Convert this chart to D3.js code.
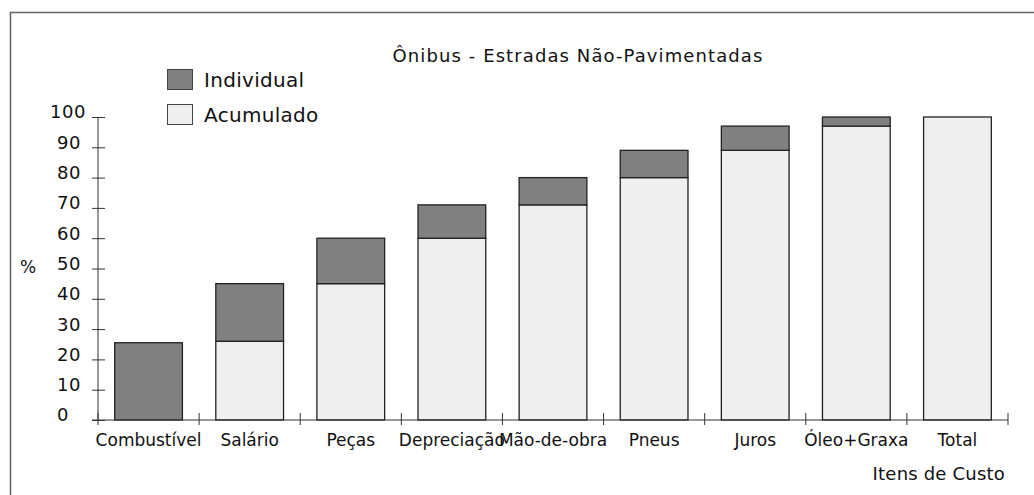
<!DOCTYPE html>
<html>
<head>
<meta charset="utf-8">
<script src="https://cdn.jsdelivr.net/npm/d3@7"></script>
<style>
  body { margin: 0; background: #fff; }
  svg text { font-family: "DejaVu Sans", Verdana, sans-serif; fill: #111; }
</style>
</head>
<body>
<svg id="chart" width="1034" height="495"></svg>
<script>
// Itens de custo e percentuais
var categorias = ["Combustível", "Salário", "Peças", "Depreciação", "Mão-de-obra", "Pneus", "Juros", "Óleo+Graxa", "Total"];
var acumulado = [0, 26, 45, 60, 71, 80, 89, 97, 100];   // base clara
var individual = [25.5, 19, 15, 11, 9, 9, 8, 3, 0];      // parte escura no topo
var yTicks = [0, 10, 20, 30, 40, 50, 60, 70, 80, 90, 100];

var svg = d3.select("#chart");

// moldura
svg.append("rect")
  .attr("x", 10.5).attr("y", 12.5)
  .attr("width", 1100).attr("height", 600)
  .style("fill", "none").style("stroke", "#666").style("stroke-width", 1.5);

// Scales
var x = d3.scaleBand()
  .domain(categorias)
  .range([98, 1008])
  .paddingInner(0.33)
  .paddingOuter(0.165);
var y = d3.scaleLinear()
  .domain([0, 100])
  .range([420, 117]);

var dados = categorias.map(function (c, i) {
  return { cat: c, acum: acumulado[i], ind: individual[i] };
});

// Acumulado
svg.append("g").selectAll("rect")
  .data(dados)
  .enter().append("rect")
  .attr("x", function (d) { return x(d.cat); })
  .attr("width", x.bandwidth())
  .attr("y", function (d) { return y(d.acum); })
  .attr("height", function (d) { return y(0) - y(d.acum); })
  .style("fill", "#efefef")
  .style("stroke", "#222").style("stroke-width", 1.3)
  .style("display", function (d) { return d.acum > 0 ? null : "none"; });

// Individual
svg.append("g").selectAll("rect")
  .data(dados)
  .enter().append("rect")
  .attr("x", function (d) { return x(d.cat); })
  .attr("width", x.bandwidth())
  .attr("y", function (d) { return y(d.acum + d.ind); })
  .attr("height", function (d) { return y(d.acum) - y(d.acum + d.ind); })
  .style("fill", "#808080")
  .style("stroke", "#222").style("stroke-width", 1.3)
  .style("display", function (d) { return d.ind > 0 ? null : "none"; });

// Eixo Y
var yAxis = svg.append("g")
  .attr("transform", "translate(98,0)")
  .call(d3.axisLeft(y).tickValues(yTicks).tickSize(6).tickPadding(10));
yAxis.select(".domain").attr("d", "M0," + y(0) + "V" + y(100)).style("stroke", "#333");
yAxis.selectAll(".tick line").attr("x1", 7).style("stroke", "#333");
yAxis.selectAll(".tick text")
  .attr("text-anchor", "start")
  .attr("x", function (d) { return d === 100 ? -48 : -41; })
  .attr("dy", "0.05em")
  .style("font-size", "18px")
  .style("letter-spacing", "0.5px")
  .style("font-family", "'DejaVu Sans', sans-serif")
  .style("fill", "#111");

// Eixo X
var bordas = categorias.map(function (c) { return x(c) - x.step() * x.paddingInner() / 2; });
bordas.push(x.range()[1]);
var xAxis = svg.append("g");
xAxis.append("line")
  .attr("x1", 92).attr("x2", x.range()[1])
  .attr("y1", y(0)).attr("y2", y(0))
  .style("stroke", "#333");
xAxis.selectAll("line.tk")
  .data(bordas)
  .enter().append("line")
  .classed("tk", true)
  .attr("x1", function (d) { return d; }).attr("x2", function (d) { return d; })
  .attr("y1", y(0) - 7).attr("y2", y(0) + 5)
  .style("stroke", "#333");
xAxis.selectAll("text")
  .data(categorias)
  .enter().append("text")
  .attr("x", function (d) { return x(d) + x.bandwidth() / 2; })
  .attr("y", 446)
  .attr("text-anchor", "middle")
  .style("font-size", "17px")
  .text(function (d) { return d; });

// Títulos
svg.append("text")
  .attr("x", 578).attr("y", 62)
  .attr("text-anchor", "middle")
  .style("font-size", "18px")
  .style("letter-spacing", "1.1px")
  .text("Ônibus - Estradas Não-Pavimentadas");

svg.append("text")
  .attr("x", 1005).attr("y", 480)
  .attr("text-anchor", "end")
  .style("font-size", "18px")
  .style("letter-spacing", "0.2px")
  .text("Itens de Custo");

svg.append("text")
  .attr("x", 20).attr("y", 273)
  .style("font-size", "17px")
  .text("%");

// Legenda
var legenda = [
  { nome: "Individual", cor: "#808080", y: 69 },
  { nome: "Acumulado", cor: "#efefef", y: 104 }
];
var leg = svg.append("g").selectAll("g")
  .data(legenda)
  .enter().append("g");
leg.append("rect")
  .attr("x", 167.5).attr("y", function (d) { return d.y + 0.5; })
  .attr("width", 25).attr("height", 20)
  .style("fill", function (d) { return d.cor; })
  .style("stroke", "#444").style("stroke-width", 1);
leg.append("text")
  .attr("x", 204).attr("y", function (d) { return d.y + 18; })
  .style("font-size", "20px")
  .style("letter-spacing", "0.3px")
  .text(function (d) { return d.nome; });
</script>
</body>
</html>
